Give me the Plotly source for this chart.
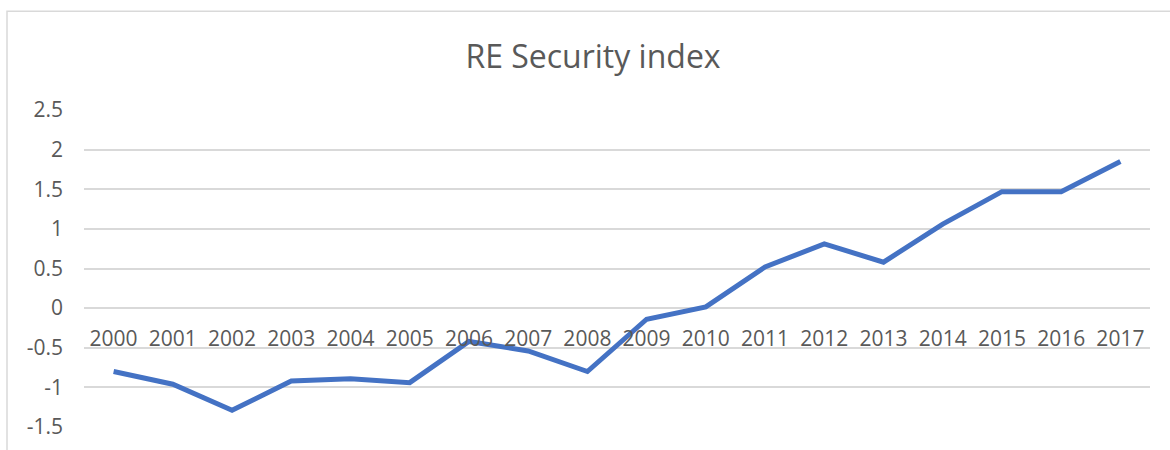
import plotly.graph_objects as go

years = [str(y) for y in range(2000, 2018)]
values = [-0.80, -0.96, -1.29, -0.92, -0.89, -0.94, -0.42, -0.54, -0.80,
          -0.14, 0.015, 0.52, 0.81, 0.58, 1.06, 1.47, 1.47, 1.85]
y_ticks = [-1.5, -1, -0.5, 0, 0.5, 1, 1.5, 2, 2.5]
y_labels = ["-1.5", "-1", "-0.5", "0", "0.5", "1", "1.5", "2", "2.5"]

W, H = 1170, 450
left, right, top, bottom = 84, 1150, 110, 427.5
pw, ph = right - left, bottom - top

fig = go.Figure()
fig.add_trace(go.Scatter(
    x=years, y=values, mode="lines",
    line=dict(color="#4472C4", width=5),
    showlegend=False, hoverinfo="x+y",
))

font = "Open Sans, Calibri, sans-serif"
fig.update_layout(
    width=W, height=H,
    margin=dict(l=left, r=W - right, t=top, b=H - bottom, autoexpand=False),
    paper_bgcolor="white", plot_bgcolor="white",
    title=dict(text="RE Security index", x=593 / W, xref="container",
               xanchor="center",
               y=(H - 57) / H, yanchor="middle",
               font=dict(family=font, size=32, color="#595959")),
    xaxis=dict(type="category", anchor="free", position=1.5 / 4.0,
               range=[-0.5, len(years) - 0.5],
               showgrid=False, showline=False, ticks="", zeroline=False,
               tickfont=dict(family=font, size=21, color="#595959"),
               ticklabelstandoff=16),
    yaxis=dict(range=[-1.5, 2.5], tickvals=y_ticks, ticktext=y_labels,
               showgrid=True, gridcolor="#D9D9D9", gridwidth=1.5,
               zeroline=False, showline=False, ticks="",
               tickfont=dict(family=font, size=21, color="#595959"),
               ticklabelstandoff=20),
    shapes=[dict(type="rect", xref="paper", yref="paper",
                 x0=(7 - left) / pw, x1=(1180 - left) / pw,
                 y0=(bottom - 470) / ph, y1=(bottom - 11) / ph,
                 line=dict(color="#D9D9D9", width=1.5), layer="below")],
)

fig.write_html("out.html")
